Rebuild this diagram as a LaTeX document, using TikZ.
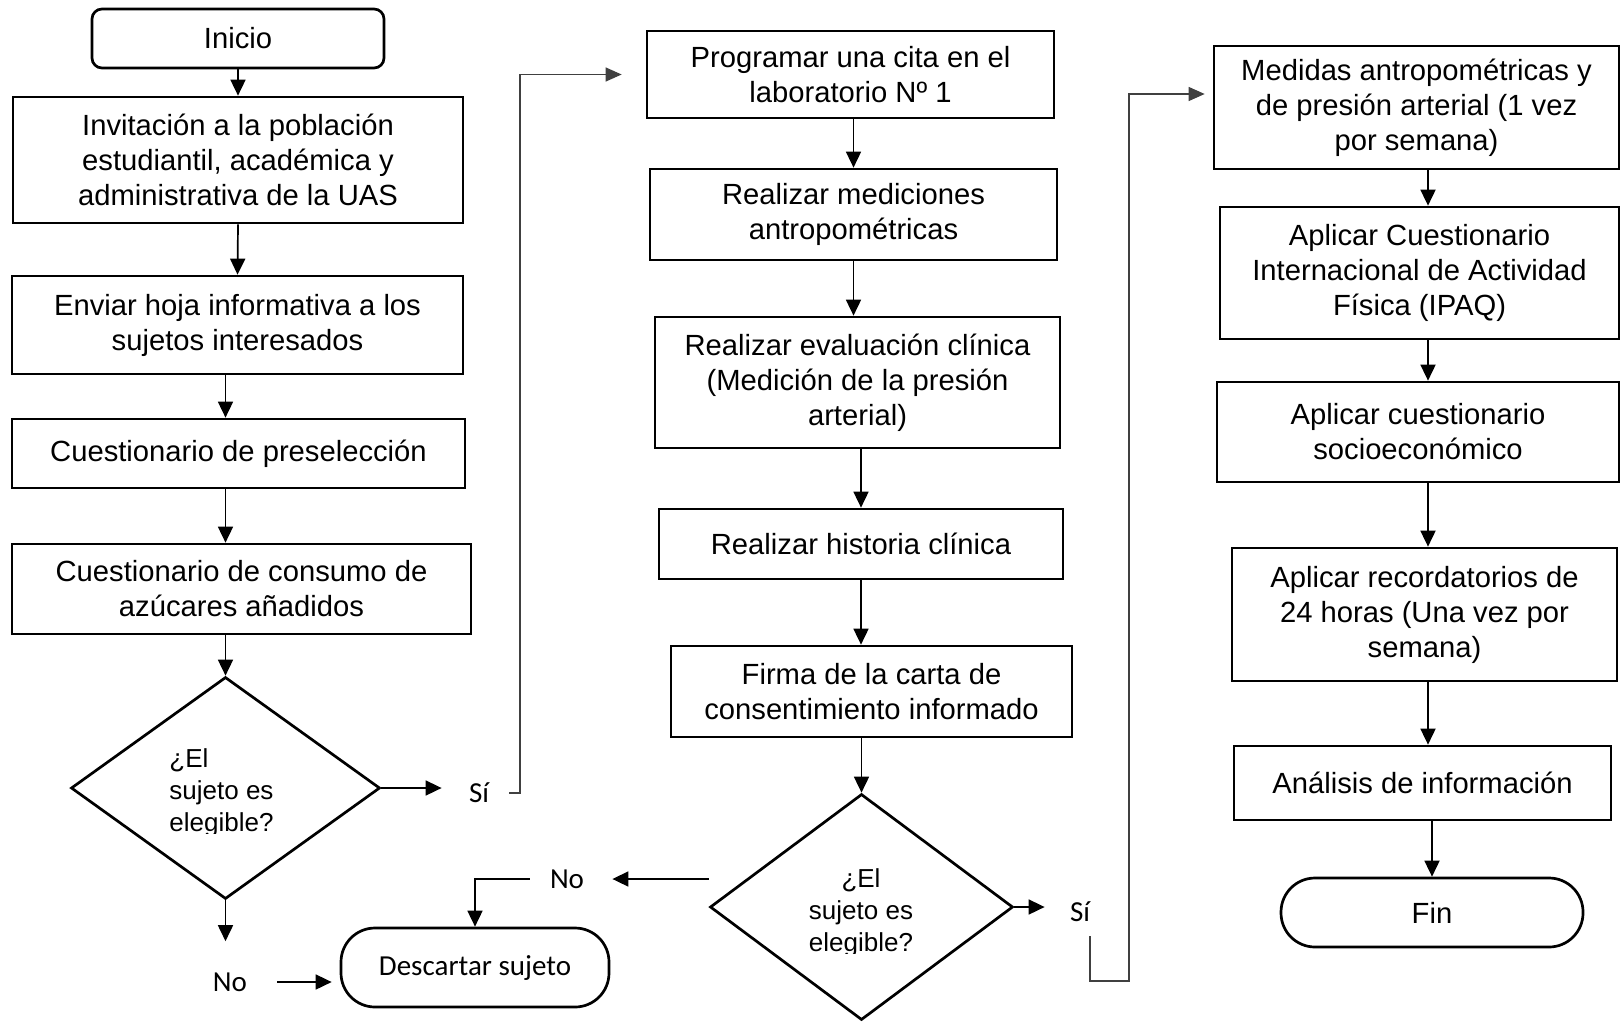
\documentclass[tikz,border=0pt]{standalone}
\usepackage{fontspec}
\setmainfont{Liberation Sans}
\newfontfamily\calib{Carlito}
\usetikzlibrary{shapes.geometric,arrows.meta}
\tikzset{
  caja/.style={draw,line width=1.35pt,inner sep=0pt,align=center,font=\fontsize{14.6}{17.5}\selectfont},
  terminal/.style={caja,rounded corners=17pt},
  decision/.style={draw,diamond,line width=1.35pt,inner sep=0pt},
  pregunta/.style={inner sep=0pt,font=\fontsize{13}{16}\selectfont},
  etiq/.style={inner sep=0pt,font=\calib\fontsize{14.5}{17}\selectfont},
  flecha/.style={-{Triangle[length=8pt,width=7.5pt]},line width=0.85pt},
  salto/.style={-{Triangle[length=8pt,width=7pt]},line width=0.6pt,draw=black!75}
}
\begin{document}
\begin{tikzpicture}[x=0.5pt,y=-0.5pt]
\useasboundingbox (0,0) rectangle (1620,1022);
% primera columna
\node[terminal,rounded corners=5pt,minimum width=146pt,minimum height=29.5pt] (inicio) at (238,38.5) {Inicio};
\node[caja,minimum width=225pt,minimum height=63pt] (invit) at (238,160) {Invitación a la población\\estudiantil, académica y\\administrativa de la UAS};
\node[caja,minimum width=225.5pt,minimum height=49pt] (enviar) at (237.5,325) {Enviar hoja informativa a los\\sujetos interesados};
\node[caja,minimum width=226.5pt,minimum height=34.5pt] (presel) at (238.5,453.5) {Cuestionario de preselección};
\node[caja,minimum width=229.5pt,minimum height=45pt] (consumo) at (241.5,589) {Cuestionario de consumo de\\azúcares añadidos};
\node[decision,minimum width=154.5pt,minimum height=111pt] (d1) at (225.5,788) {};
\begin{scope}
  \clip (150,740) rectangle (300,833);
  \node[pregunta,align=left] (q1) at (221.5,793) {¿El\\sujeto es\\elegible?};
\end{scope}
\node[etiq] (si1) at (479,793) {Sí}; \node[etiq] (no1) at (230,982) {No};
\node[terminal,font=\calib\fontsize{14.5}{17}\selectfont,minimum width=134pt,minimum height=39.5pt] (descartar) at (475,967.5) {Descartar sujeto};
% segunda columna
\node[caja,minimum width=203.5pt,minimum height=43.5pt] (prog) at (850.5,74.5) {Programar una cita en el\\laboratorio Nº 1};
\node[caja,minimum width=203.5pt,minimum height=45.5pt] (medic) at (853.5,214.5) {Realizar mediciones\\antropométricas};
\node[caja,minimum width=202.5pt,minimum height=65.5pt] (eval) at (857.5,382.5) {Realizar evaluación clínica\\(Medición de la presión\\arterial)};
\node[caja,minimum width=202pt,minimum height=35pt] (hist) at (861,544) {Realizar historia clínica};
\node[caja,minimum width=200.5pt,minimum height=45.5pt] (firma) at (871.5,691.5) {Firma de la carta de\\consentimiento informado};
\node[decision,minimum width=151.5pt,minimum height=113pt] (d2) at (861.5,907) {};
\begin{scope}
  \clip (780,860) rectangle (940,953);
  \node[pregunta,align=center] (q2) at (861,913) {¿El\\sujeto es\\elegible?};
\end{scope}
\node[etiq] (no2) at (567,879) {No}; \node[etiq] (si2) at (1080,912) {Sí};
% tercera columna
\node[caja,minimum width=202.5pt,minimum height=61.5pt] (medidas) at (1416.5,107.5) {Medidas antropométricas y\\de presión arterial (1 vez\\por semana)};
\node[caja,minimum width=199.5pt,minimum height=66pt] (ipaq) at (1419.5,273) {Aplicar Cuestionario\\Internacional de Actividad\\Física (IPAQ)};
\node[caja,minimum width=201pt,minimum height=50pt] (socio) at (1418,432) {Aplicar cuestionario\\socioeconómico};
\node[caja,minimum width=192.5pt,minimum height=66.5pt] (record) at (1424.5,614.5) {Aplicar recordatorios de\\24 horas (Una vez por\\semana)};
\node[caja,minimum width=188.5pt,minimum height=37pt] (analisis) at (1422.5,783) {Análisis de información};
\node[terminal,minimum width=151pt,minimum height=34.5pt] (fin) at (1432,912.5) {Fin};
\coordinate (ejeD) at (1428,0);
\coordinate (s1) at (520,793); \coordinate (s2) at (1129,981); \coordinate (s3) at (1129,94);
% flechas
\draw[flecha] (inicio.south) -- (invit.north);
\draw[flecha] (invit.south) -- (enviar.north);
\draw[flecha] (enviar.south -| d1) -- (presel.north -| d1);
\draw[flecha] (presel.south -| d1) -- (consumo.north -| d1);
\draw[flecha] (consumo.south -| d1) -- (d1.north);
\draw[flecha,shorten >=15.5pt] (d1.south) -- (d1.south |- no1.north);
\draw[flecha,shorten <=15pt,shorten >=4pt] (no1.east) -- (no1.east -| descartar.west);
\draw[flecha,shorten >=13.5pt] (d1.east) -- (d1.east -| si1.west);
\draw[salto,shorten <=10pt,shorten >=12pt] (si1.east) -- (s1) |- (prog.west);
\draw[flecha] (prog.south -| medic) -- (medic.north);
\draw[flecha] (medic.south) -- (medic.south |- eval.north);
\draw[flecha] (eval.south -| hist) -- (hist.north);
\draw[flecha] (hist.south) -- (hist.south |- firma.north);
\draw[flecha] (firma.south -| d2) -- (d2.north);
\draw[flecha,shorten >=14pt] (d2.west |- no2) -- (no2.east);
\draw[flecha,shorten <=10pt] (no2.west) -| (descartar.north);
\draw[flecha,shorten >=12.5pt] (d2.east) -- (d2.east -| si2.west);
\draw[salto,shorten <=7pt,shorten >=4pt] ([xshift=5pt]si2.south) |- (s2) -- (s3) -- (s3 -| medidas.west);
\draw[flecha] (medidas.south -| ejeD) -- (ipaq.north -| ejeD);
\draw[flecha] (ipaq.south -| ejeD) -- (socio.north -| ejeD);
\draw[flecha] (socio.south -| ejeD) -- (record.north -| ejeD);
\draw[flecha] (record.south -| ejeD) -- (analisis.north -| ejeD);
\draw[flecha] (analisis.south -| fin) -- (fin.north);
\end{tikzpicture}
\end{document}
